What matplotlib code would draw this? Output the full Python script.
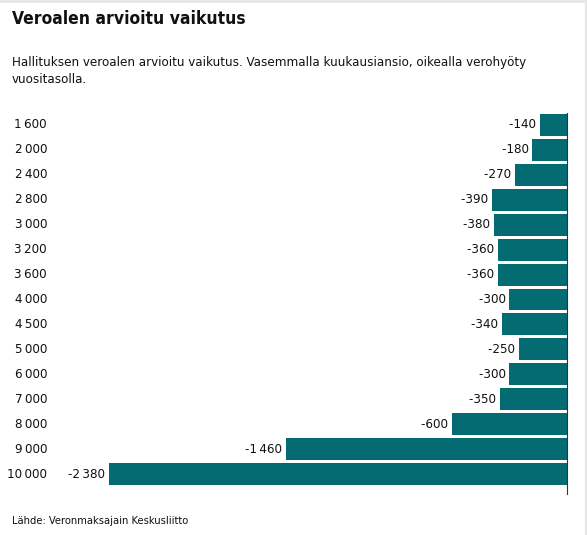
import matplotlib.pyplot as plt
from matplotlib.font_manager import FontProperties

# Tulotasot (kk-ansio) ja arvioitu verohyöty vuodessa
tulot = ["1\u2009600", "2\u2009000", "2\u2009400", "2\u2009800", "3\u2009000", "3\u2009200",
         "3\u2009600", "4\u2009000", "4\u2009500", "5\u2009000", "6\u2009000", "7\u2009000",
         "8\u2009000", "9\u2009000", "10\u2009000"]
hyoty = [-140, -180, -270, -390, -380, -360, -360, -300, -340, -250, -300, -350,
         -600, -1460, -2380]

vari = "#056b73"
fnt = FontProperties(family=["DejaVu Sans"], stretch="condensed")
fnt_b = FontProperties(family=["DejaVu Sans"], stretch="condensed", weight="bold")

fig = plt.figure(figsize=(5.87, 5.35), dpi=100)
W, H = 587, 535
x0, x1 = 60, 567
y_top, y_bot = 112.5, 486.5
ax = fig.add_axes([x0 / W, 1 - y_bot / H, (x1 - x0) / W, (y_bot - y_top) / H])

skaala = 458 / 2380  # px per yksikkö
ax.set_xlim(-(x1 - x0) / skaala, 0)
ax.set_ylim(len(tulot) - 0.5, -0.5)

pos = list(range(len(tulot)))
ax.barh(pos, hyoty, height=0.88, color=vari)
ax.axvline(0, ymin=-0.02, ymax=1.0, color="#333333", lw=0.8, clip_on=False)

for i, v in enumerate(hyoty):
    txt = f"{v:,}".replace(",", "\u2009")
    ax.text(v, i, txt + " ", ha="right", va="center", fontproperties=fnt,
            fontsize=9.5, color="#111111")
    fig.text(47 / W, 1 - (125 + i * 24.93) / H, tulot[i], ha="right", va="center",
             fontproperties=fnt, fontsize=9.5, color="#111111")

ax.axis("off")

fig.text(12 / W, 1 - 19 / H, "Veroalen arvioitu vaikutus", ha="left", va="center",
         fontproperties=fnt_b, fontsize=12.5, color="#111111")
fig.text(12 / W, 1 - 71 / H,
         "Hallituksen veroalen arvioitu vaikutus. Vasemmalla kuukausiansio, oikealla verohyöty\nvuositasolla.",
         ha="left", va="center", fontproperties=fnt, fontsize=9.5, color="#111111",
         linespacing=1.35)
fig.text(12 / W, 1 - 521 / H, "Lähde: Veronmaksajain Keskusliitto", ha="left", va="center",
         fontproperties=fnt, fontsize=8, color="#111111")

# harmaa reunus ylhäällä ja oikealla
fig.add_artist(plt.Line2D([0, 1], [1 - 1 / H, 1 - 1 / H], color="#e6e6e6", lw=2,
                          transform=fig.transFigure))
fig.add_artist(plt.Line2D([585.5 / W, 585.5 / W], [0, 1], color="#e6e6e6", lw=1.5,
                          transform=fig.transFigure))

fig.savefig("out.png", dpi=100)
